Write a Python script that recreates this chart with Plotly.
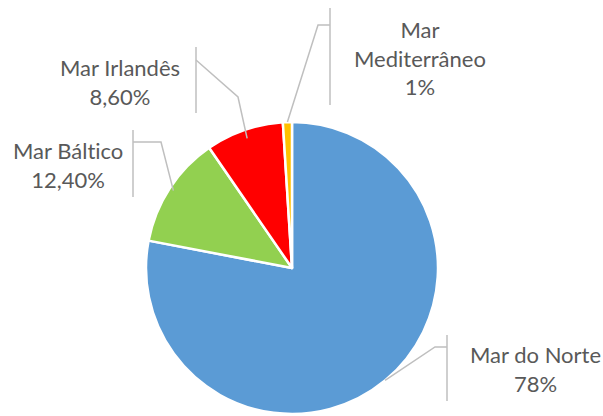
import math
import plotly.graph_objects as go

labels = ["Mar do Norte", "Mar Báltico", "Mar Irlandês", "Mar Mediterrâneo"]
values = [78, 12.4, 8.6, 1]
value_text = ["78%", "12,40%", "8,60%", "1%"]
label_text = ["Mar do Norte", "Mar Bált\u200cico", "Mar Irlandês", "Mar<br>Mediterrâneo"]
colors = ["#5B9BD5", "#92D050", "#FF0000", "#FFC000"]

W, H = 603, 416
CX, CY, R = 292, 268, 146

def px(x):
    return x / W

def py(y):
    return 1 - y / H

fig = go.Figure(go.Pie(
    labels=labels, values=values, sort=False, direction="clockwise", rotation=0,
    marker=dict(colors=colors, line=dict(color="white", width=2.5)),
    textinfo="none", hoverinfo="label+percent", showlegend=False,
    domain=dict(x=[px(CX - R), px(CX + R)], y=[py(CY + R), py(CY - R)]),
))

# label placement (layout): text centre, bar x, bar y-range, elbow point, radial fraction
layout_info = [
    dict(tx=535, ty=369, bar_x=447, bar_y=(335, 401), elbow=[(447, 347), (435, 347)], rf=1.0),
    dict(tx=68, ty=165, bar_x=133, bar_y=(130, 197), elbow=[(133, 142), (161, 142)], rf=0.97),
    dict(tx=120, ty=82, bar_x=196, bar_y=(47, 113), elbow=[(196, 60), (238, 97)], rf=0.94),
    dict(tx=420, ty=58, bar_x=330, bar_y=(8, 105), elbow=[(330, 25), (318, 25)], rf=1.0),
]

total = sum(values)
cum = 0
line_style = dict(color="#BFBFBF", width=1.5)
for i, v in enumerate(values):
    mid = (cum + v / 2) / total * 2 * math.pi
    cum += v
    info = layout_info[i]
    ex = CX + info["rf"] * R * math.sin(mid)
    ey = CY - info["rf"] * R * math.cos(mid)
    pts = info["elbow"] + [(ex, ey)]
    path = "M " + " L ".join(f"{px(x)},{py(y)}" for x, y in pts)
    fig.add_shape(type="path", xref="paper", yref="paper", path=path, line=line_style)
    fig.add_shape(type="line", xref="paper", yref="paper",
                  x0=px(info["bar_x"]), x1=px(info["bar_x"]),
                  y0=py(info["bar_y"][0]), y1=py(info["bar_y"][1]), line=line_style)
    fig.add_annotation(x=px(info["tx"]), y=py(info["ty"]), xref="paper", yref="paper",
                       text=f"{label_text[i]}<br>{value_text[i]}", showarrow=False,
                       xanchor="center", yanchor="middle", align="center",
                       font=dict(family="Lato", size=22, color="#595959"))

fig.update_layout(width=W, height=H, margin=dict(l=0, r=0, t=0, b=0),
                  paper_bgcolor="white", plot_bgcolor="white")
fig.write_html("out.html", config={"displayModeBar": False},
               post_script="document.body.style.margin='0';document.body.style.overflow='hidden';")
